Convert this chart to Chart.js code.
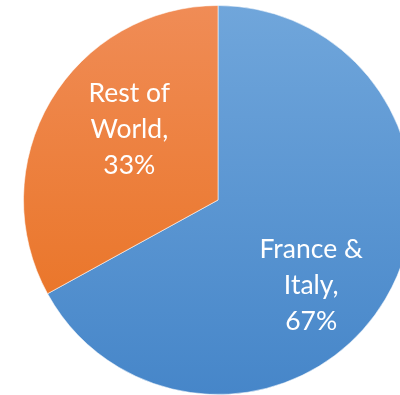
<!DOCTYPE html>
<html>
<head>
<meta charset="utf-8">
<script src="https://cdn.jsdelivr.net/npm/chart.js@4/dist/chart.umd.min.js"></script>
<style>
  html, body { margin: 0; padding: 0; background: #fff; overflow: hidden; }
  #wrap { width: 400px; height: 395px; overflow: hidden; }
</style>
</head>
<body>
<div id="wrap"><canvas id="pie" width="440" height="395"></canvas></div>
<script>
const regions = ['France & Italy', 'Rest of World'];
const shares = [67, 33];
// wrapped name lines for the in-slice labels
const nameLines = [['France &', 'Italy,'], ['Rest of', 'World,']];

// top/bottom colours of each slice's vertical gradient
const gradTop = ['#70a6db', '#f08c56'];
const gradBottom = ['#4686c9', '#e86f1c'];

// label centre (middle line) as a fraction of the radius from the pie centre
const labelSpots = [[0.479, 0.441], [-0.456, -0.362]];

function sliceFill(ctx) {
  const area = ctx.chart.chartArea;
  if (!area) return gradBottom[ctx.dataIndex];
  const g = ctx.chart.ctx.createLinearGradient(0, area.top, 0, area.bottom);
  g.addColorStop(0, gradTop[ctx.dataIndex]);
  g.addColorStop(1, gradBottom[ctx.dataIndex]);
  return g;
}

const sliceLabels = {
  id: 'sliceLabels',
  afterDatasetsDraw(chart) {
    const c = chart.ctx;
    const arcs = chart.getDatasetMeta(0).data;
    c.save();
    c.fillStyle = '#ffffff';
    c.font = '26.5px Lato, "Open Sans", sans-serif';
    c.textAlign = 'center';
    c.textBaseline = 'middle';
    arcs.forEach((arc, i) => {
      const r = arc.outerRadius;
      const cx = arc.x + labelSpots[i][0] * r;
      const cy = arc.y + labelSpots[i][1] * r;
      const lines = nameLines[i].concat([shares[i] + '%']);
      const lh = 36;
      lines.forEach((t, k) => {
        c.fillText(t, cx, cy + (k - 1) * lh);
      });
    });
    c.restore();
  }
};

new Chart(document.getElementById('pie'), {
  type: 'pie',
  data: {
    labels: regions,
    datasets: [{
      data: shares,
      backgroundColor: sliceFill,
      borderColor: 'rgba(255,255,255,0.55)',
      borderWidth: 1
    }]
  },
  options: {
    responsive: false,
    animation: false,
    layout: { padding: { left: 23, right: 27, top: 5, bottom: 0 } },
    plugins: {
      legend: { display: false },
      tooltip: { enabled: false }
    }
  },
  plugins: [sliceLabels]
});
</script>
</body>
</html>
